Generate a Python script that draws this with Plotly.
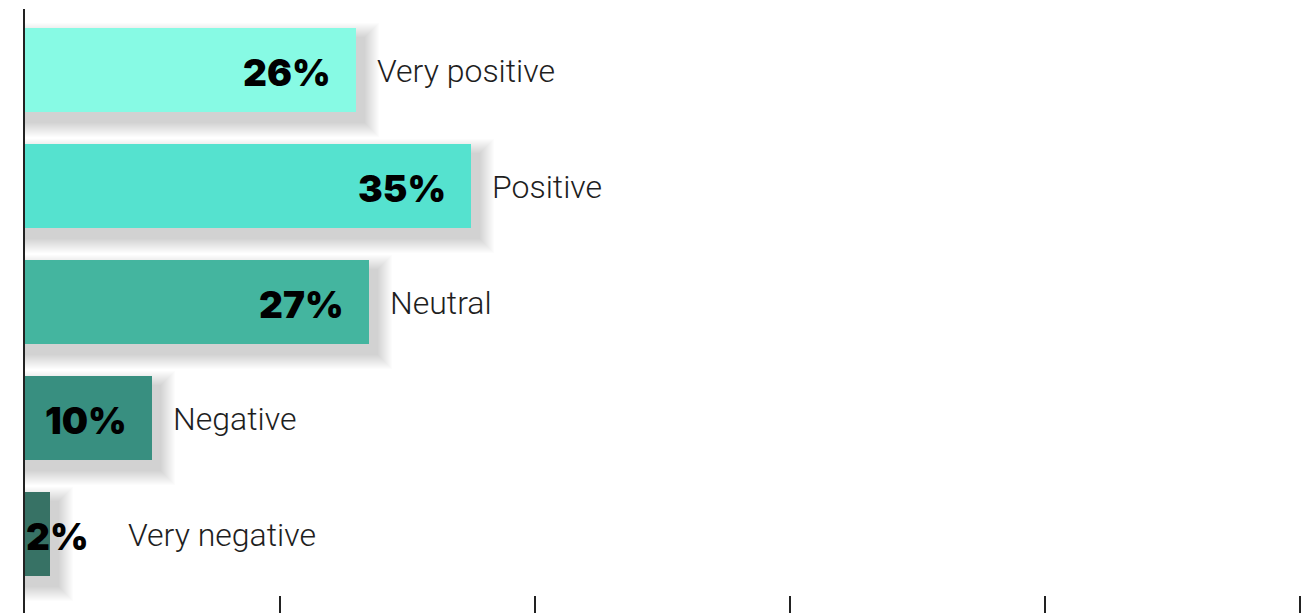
import plotly.graph_objects as go

# Sentiment breakdown (share of responses, %)
categories = ["Very positive", "Positive", "Neutral", "Negative", "Very negative"]
shares = [26, 35, 27, 10, 2]
value_labels = ["26%", "35%", "27%", "10%", "2%"]
bar_colors = ["#87FAE4", "#55E2CF", "#44B59F", "#388F80", "#377265"]
x_ticks = [20, 40, 60, 80, 100]

W, H = 1311, 613
M_L, M_R, M_T, M_B = 25, 0, 9, 0
X_MAX = 100.9
PX_PER_X = (W - M_L - M_R) / X_MAX  # pixels per percentage point
ROW_PX = 116                         # vertical pitch of one bar row
BAR_W = 84 / ROW_PX                  # bar thickness in row units
Y_TOP = -(60.5 / ROW_PX)
Y_BOT = Y_TOP + (H - M_T - M_B) / ROW_PX

rows = list(range(len(categories)))

fig = go.Figure()

# Soft drop shadow: many faint bars, each slightly larger, offset right/down
shadow_dx, shadow_dy = 8, 10
for spread in range(15, 0, -1):
    fig.add_trace(go.Bar(
        x=[v + (shadow_dx + spread) / PX_PER_X for v in shares],
        y=[r + shadow_dy / ROW_PX for r in rows],
        base=0,
        orientation="h",
        width=BAR_W + 2 * spread / ROW_PX,
        marker=dict(color="rgba(0,0,0,0.01)", line=dict(width=0)),
        hoverinfo="skip",
        showlegend=False,
    ))

fig.add_trace(go.Bar(
    x=shares,
    y=rows,
    orientation="h",
    width=BAR_W,
    marker=dict(color=bar_colors, line=dict(width=0)),
    customdata=categories,
    hovertemplate="%{customdata}: %{x}%<extra></extra>",
    showlegend=False,
))

value_font = dict(family="Inter, Lato, sans-serif", size=37, color="#000000", weight=900)
cat_font = dict(family="Roboto, 'Open Sans', sans-serif", size=32, color="#1e1e1e", weight=300)

for r, v, lab, cat in zip(rows, shares, value_labels, categories):
    bar_px = v * PX_PER_X
    fits = bar_px > 110
    if fits:
        fig.add_annotation(x=v, y=r, text=lab, showarrow=False,
                           xanchor="right", yanchor="middle", xshift=-23, yshift=-3,
                           font=value_font)
        cat_shift = 19
    else:
        # narrow bar: value sits against the axis, category follows it
        fig.add_annotation(x=0, y=r, text=lab, showarrow=False,
                           xanchor="left", yanchor="middle", xshift=-1, yshift=-3,
                           font=value_font)
        cat_shift = 101 - bar_px
    fig.add_annotation(x=v, y=r, text=cat, showarrow=False,
                       xanchor="left", yanchor="middle", xshift=cat_shift, yshift=-1,
                       font=cat_font)

fig.update_layout(
    width=W, height=H,
    margin=dict(l=M_L, r=M_R, t=M_T, b=M_B, pad=0),
    paper_bgcolor="white", plot_bgcolor="white",
    barmode="overlay",
    bargap=0,
    xaxis=dict(range=[0, X_MAX], tickvals=x_ticks, showticklabels=False,
               ticks="inside", ticklen=17, tickwidth=2, tickcolor="#222222",
               showgrid=False, zeroline=False, showline=False, fixedrange=True),
    yaxis=dict(range=[Y_BOT, Y_TOP], showticklabels=False, ticks="",
               showgrid=False, zeroline=False, showline=True,
               linecolor="#222222", linewidth=2, fixedrange=True),
)

fig.write_html("out.html", config={"displayModeBar": False})
